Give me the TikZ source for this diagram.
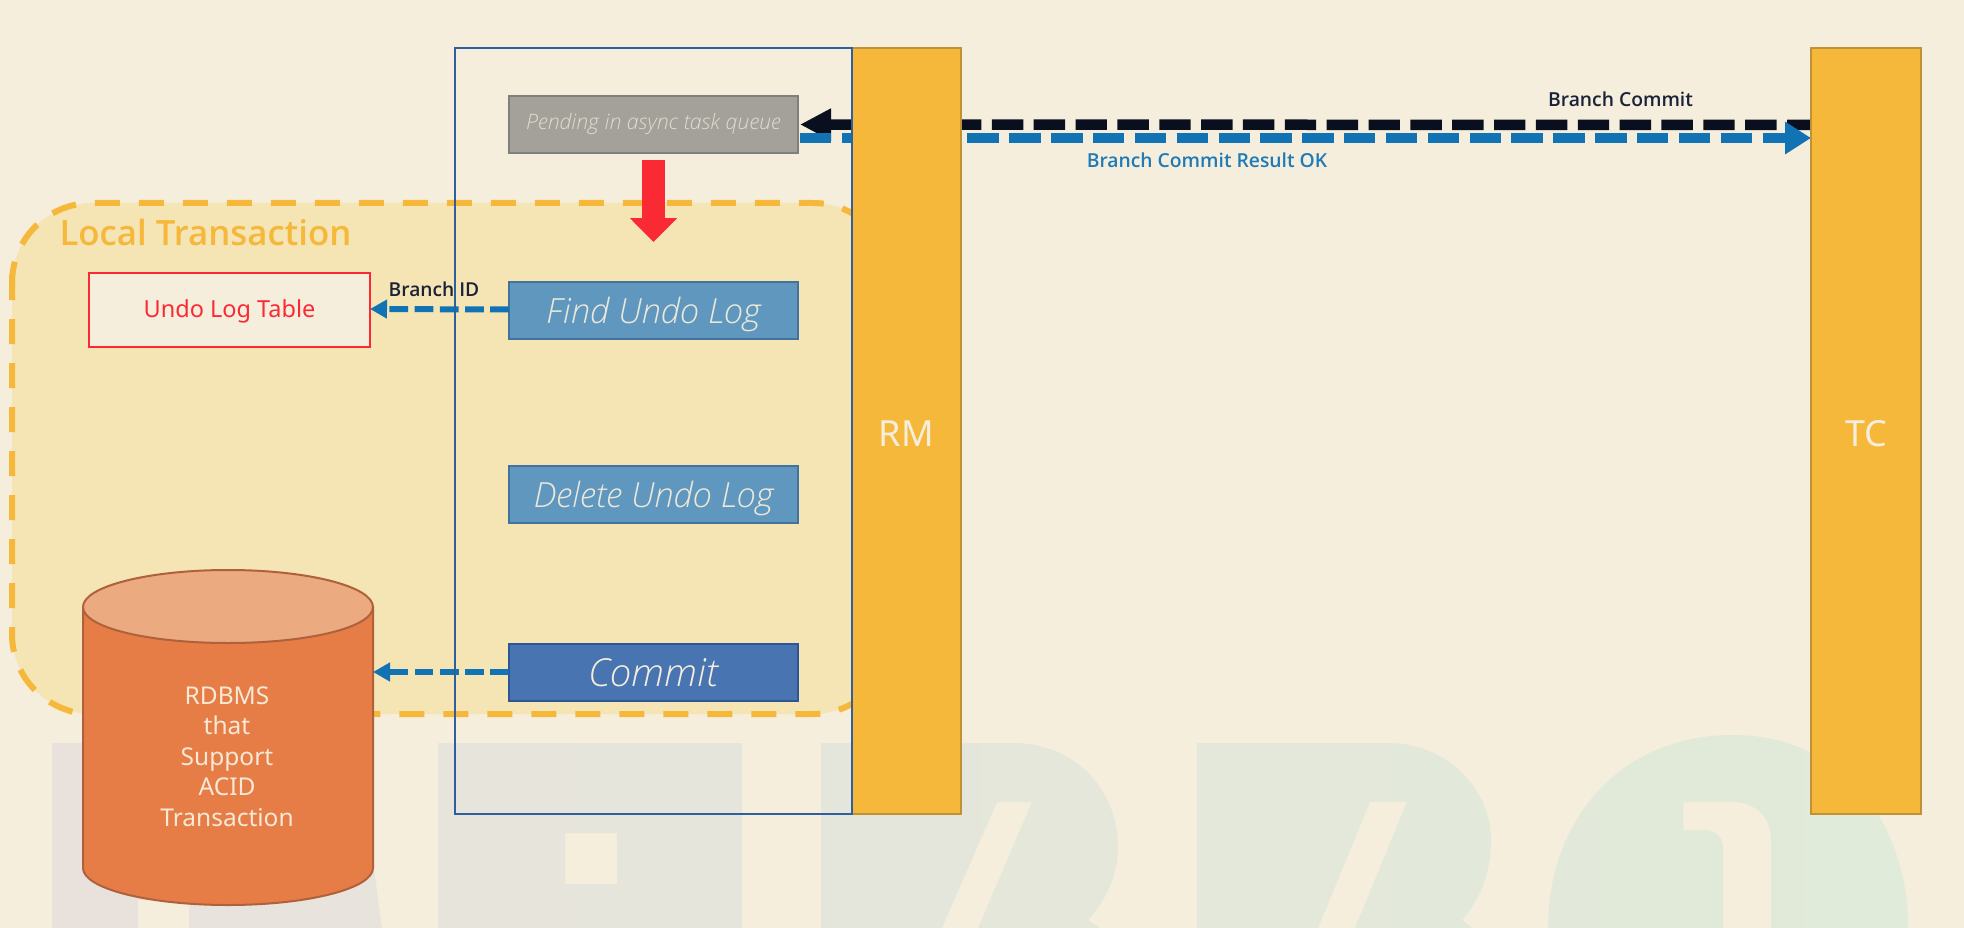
\documentclass[tikz,border=0pt]{standalone}
\usepackage{fontspec}
\setmainfont{Noto Sans}
\newfontfamily\lightit{Open Sans Light}[ItalicFont={Open Sans Light Italic}]
\newfontfamily\medfont{Open Sans Semibold}
\usetikzlibrary{arrows.meta}
\definecolor{bgc}{HTML}{F5EEDC}
\definecolor{ltfill}{HTML}{F5E4B4}
\definecolor{amber}{HTML}{F5B83A}
\definecolor{amberb}{HTML}{BF9235}
\definecolor{framec}{HTML}{2F5F9F}
\definecolor{ink}{HTML}{0A0F20}
\definecolor{flow}{HTML}{1273B4}
\definecolor{redc}{HTML}{FA2A35}
\definecolor{stepf}{HTML}{5F97BF}
\definecolor{stepb}{HTML}{42739C}
\definecolor{stepw}{HTML}{EBE8D9}
\definecolor{pendb}{HTML}{7F7F7B}
\definecolor{pendf}{HTML}{A3A199}
\definecolor{pendt}{HTML}{E0DCCF}
\definecolor{comb}{HTML}{2F5597}
\definecolor{comf}{HTML}{4874B2}
\definecolor{dbb}{HTML}{B0603A}
\definecolor{dbf}{HTML}{E67D47}
\definecolor{dbt}{HTML}{EBAA80}
\definecolor{dbtx}{HTML}{F7E9D6}
\definecolor{labd}{HTML}{1A2238}
\definecolor{labb}{HTML}{1E7BB8}
\definecolor{wml}{HTML}{E9E2DC}
\definecolor{wmm}{HTML}{E6E5DB}
\definecolor{wmr}{HTML}{E0EBD9}
\tikzset{
  x=1pt,y=-1pt,
  lane/.style={draw=amberb,line width=2.2pt,fill=amber,minimum width=109pt,minimum height=766pt,inner sep=0pt,outer sep=0pt,text=bgc,text height=36pt,text depth=4.5pt,font=\fontsize{36}{42}\selectfont},
  stepbox/.style={line width=2pt,minimum width=289pt,minimum height=57pt,inner sep=0pt,outer sep=0pt,font=\lightit\itshape\fontsize{34.7}{40}\selectfont,text height=32pt,text depth=5.6pt},
  bluebox/.style={stepbox,draw=stepb,fill=stepf,text=stepw},
  dashline/.style={line width=6pt,draw=amber,dash pattern=on 25pt off 19pt},
  thickflow/.style={line width=10.5pt,dash pattern=on 31.4pt off 10.45pt},
  thinflow/.style={line width=6pt,draw=flow,dash pattern=on 18.8pt off 6.4pt,-{Triangle[length=17pt,width=18pt]}},
  lab/.style={inner sep=0pt,outer sep=0pt,font=\medfont\fontsize{19.3}{25}\selectfont}
}
\begin{document}
\begin{tikzpicture}
\useasboundingbox (0,0) rectangle (1964,928);
\fill[bgc] (0,0) rectangle (1964,928);
% watermark
\shade[left color=wml,middle color=wmm,right color=wmr,even odd rule]
  (52,743) -- (357,743) -- (382,928) -- (189,928) -- (189,900) -- (138,900) -- (138,928) -- (52,928) -- cycle
  (438,743) -- (742,743) -- (742,928) -- (438,928) -- cycle
  (565,833) -- (617,833) -- (617,884) -- (565,884) -- cycle
  (821,743) -- (1013,743) .. controls (1075,743) and (1118,790) .. (1118,847) .. controls (1118,875) and (1106,900) .. (1088,920) -- (1100,928) -- (821,928) -- cycle
  (997,802) -- (1032,802) -- (978,928) -- (942,928) -- cycle
  (1197,743) -- (1388,743) .. controls (1448,743) and (1491,790) .. (1491,840) .. controls (1491,872) and (1480,900) .. (1462,920) -- (1472,928) -- (1197,928) -- cycle
  (1370,802) -- (1407,802) -- (1355,928) -- (1318,928) -- cycle
  (1548,928) .. controls (1548,820) and (1620,735) .. (1733,735) .. controls (1840,735) and (1908,820) .. (1908,928) -- cycle
  (1683,802) -- (1733,802) .. controls (1756,802) and (1771,818) .. (1771,840) -- (1771,928) -- (1723,928) -- (1723,847) .. controls (1723,836) and (1714,830) .. (1703,830) -- (1683,830) -- cycle;
% local transaction
\node[fill=ltfill,rounded corners=80pt,minimum width=881pt,minimum height=511pt,inner sep=0pt,outer sep=0pt] (lt) at (452.5,458.5) {};
\draw[dashline] (12,286.5) -- (12,283) arc[start angle=180,end angle=90,radius=80pt] -- (813,203) arc[start angle=90,end angle=0,radius=80pt];
\draw[dashline] (12,275) -- (12,634) arc[start angle=180,end angle=270,radius=80pt] -- (813,714) arc[start angle=270,end angle=360,radius=80pt];
\node[inner sep=0pt,outer sep=0pt,text=amber,font=\medfont\fontsize{34.8}{42}\selectfont] (lttitle) at (205.5,232) {Local Transaction};
% boxes
\node[stepbox,draw=pendb,fill=pendf,text=pendt,font=\lightit\itshape\fontsize{21.3}{26}\selectfont,text height=16pt,text depth=6.4pt] (pending) at (653.5,124.5) {Pending in async task queue};
\node[bluebox] (find) at (653.5,310.5) {Find Undo Log};
\node[bluebox] (delete) at (653.5,494.5) {Delete Undo Log};
\node[stepbox,draw=comb,fill=comf,text=bgc,font=\lightit\itshape\fontsize{38.6}{44}\selectfont,text height=35pt,text depth=6.6pt] (commit) at (653.5,672) {Commit};
\node[draw=redc,line width=2.5pt,fill=bgc,text=redc,minimum width=281pt,minimum height=74pt,inner sep=0pt,outer sep=0pt,font=\fontsize{23.5}{30}\selectfont,text height=20pt,text depth=5.4pt] (undo) at (229.5,310) {Undo Log Table};
% cylinder
\node[minimum width=290pt,minimum height=335pt,inner sep=0pt,outer sep=0pt] (db) at (228,737.5) {};
\draw[draw=dbb,line width=2pt,fill=dbf] (83,607) -- (83,868) .. controls (83,888.5) and (148,905) .. (228,905) .. controls (308,905) and (373,888.5) .. (373,868) -- (373,607) -- cycle;
\draw[draw=dbb,line width=2pt,fill=dbt] (83,607) .. controls (83,586.5) and (148,570) .. (228,570) .. controls (308,570) and (373,586.5) .. (373,607) .. controls (373,627.5) and (308,643) .. (228,643) .. controls (148,643) and (83,627.5) .. (83,607) -- cycle;
\node[text=dbtx,align=center,inner sep=0pt,outer sep=0pt,font=\fontsize{24.5}{30.5}\selectfont] (dbtext) at (227,756.5) {RDBMS\\that\\Support\\ACID\\Transaction};
% arrows
\draw[thinflow] ([yshift=1pt]find.west) -- ([yshift=1pt]undo.east);
\draw[thinflow] (commit.west) -- (commit.west -| db.east);
\draw[line width=23pt,draw=redc,shorten <=7pt,shorten >=40pt,-{Triangle[length=24pt,width=46pt]}] (pending.south) -- (find.north);
% lanes come after the flow lines that pass behind them
\coordinate (tcport) at (1811,125);
\coordinate (tcport2) at (1811,138);
\draw[thickflow,draw=ink,dash phase=7.4pt,shorten >=2pt,-{Triangle[length=31pt,width=30pt]}] (tcport) -- (pending.east);
\draw[thickflow,draw=flow,dash phase=39.85pt,-{Triangle[length=26pt,width=31pt]}] (pending.east |- tcport2) -- (tcport2);
\node[lane] (rm) at (906.5,431) {RM};
\node[lane,minimum width=110pt] (tc) at (1866,431) {TC};
\draw[draw=framec,line width=2pt] (455,48) rectangle (852,814);
% labels
\node[lab,text=labd,font=\medfont\fontsize{19.2}{24}\selectfont] (bid) at (434,289) {Branch ID};
\node[lab,text=labd] (bc) at (1620.5,99) {Branch Commit};
\node[lab,text=labb] (bcr) at (1207,160) {Branch Commit Result OK};
\end{tikzpicture}
\end{document}
